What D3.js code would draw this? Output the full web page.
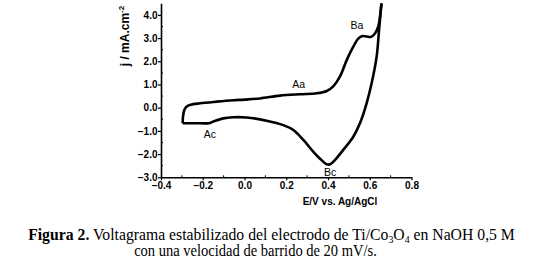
<!DOCTYPE html>
<html><head><meta charset="utf-8">
<script src="https://cdn.jsdelivr.net/npm/d3@7"></script>
<style>body{margin:0;background:#fff;}svg{display:block;}</style>
</head><body>
<svg id="c" width="560" height="269"></svg>
<script>
// Anodic (forward) sweep
const anodicE = [-0.296,-0.295,-0.289,-0.278,-0.258,-0.213,-0.133,-0.054,0.0,0.074,0.17,0.266,0.346,0.394,0.425,0.457,0.49,0.521,0.545,0.565,0.585,0.605,0.625,0.641,0.649,0.656];
const anodicJ = [-0.67,-0.42,-0.12,0.04,0.13,0.19,0.26,0.32,0.35,0.40,0.52,0.58,0.62,0.72,0.92,1.34,2.06,2.63,2.98,3.09,3.07,3.05,3.2,3.5,3.92,4.5];
// Cathodic (reverse) sweep
const cathodicE = [0.656,0.645,0.633,0.609,0.585,0.553,0.521,0.473,0.434,0.41,0.394,0.362,0.33,0.282,0.234,0.186,0.106,0.01,-0.054,-0.102,-0.15,-0.17,-0.213,-0.277,-0.296];
const cathodicJ = [4.5,3.4,2.2,1.05,0.19,-0.67,-1.25,-1.82,-2.25,-2.44,-2.44,-2.2,-1.9,-1.39,-0.96,-0.75,-0.56,-0.42,-0.41,-0.46,-0.6,-0.67,-0.67,-0.67,-0.67];
// Peak labels
const peakNames = ["Ba","Aa","Ac","Bc"];
const peakE = [0.538,0.26,-0.166,0.41];
const peakJ = [3.52,0.97,-1.19,-2.81];
// Axis ticks
const xTicks = [-0.4,-0.2,0.0,0.2,0.4,0.6,0.8];
const xMinor = [-0.3,-0.1,0.1,0.3,0.5,0.7];
const yTicks = [-3,-2,-1,0,1,2,3,4];
const yMinor = [-2.5,-1.5,-0.5,0.5,1.5,2.5,3.5];

const svg = d3.select("#c");
const x = d3.scaleLinear().domain([-0.4,0.8]).range([161,411.5]);
const y = d3.scaleLinear().domain([-3,4.5]).range([177.3,3.3]);

const tickFont = "bold 10px 'Liberation Sans', Arial, sans-serif";

// axes
const xAxis = d3.axisBottom(x).tickValues(xTicks).tickFormat(d3.format(".1f")).tickSize(3).tickSizeOuter(0);
const gx = svg.append("g").attr("transform",`translate(0,${y(-3)})`).call(xAxis);
gx.select(".domain").attr("stroke","#000").attr("stroke-width",1.6);
gx.selectAll(".tick line").attr("stroke-width",1.2);
gx.selectAll("text").style("font",tickFont).attr("fill","#000").attr("dy","0.6em");
gx.selectAll(".minor").data(xMinor).enter().append("line")
  .attr("x1",d=>x(d)).attr("x2",d=>x(d)).attr("y1",0).attr("y2",-2).attr("stroke","#000").attr("stroke-width",1);

const yAxis = d3.axisLeft(y).tickValues(yTicks).tickFormat(d3.format(".1f")).tickSize(3).tickSizeOuter(0);
const gy = svg.append("g").attr("transform",`translate(${x(-0.4)},0)`).call(yAxis);
gy.select(".domain").attr("stroke","#000").attr("stroke-width",1.6);
gy.selectAll(".tick line").attr("stroke-width",1.2);
gy.selectAll("text").style("font",tickFont).attr("fill","#000").attr("x",-3.5);
gy.selectAll(".minor").data(yMinor).enter().append("line")
  .attr("y1",d=>y(d)).attr("y2",d=>y(d)).attr("x1",0).attr("x2",2).attr("stroke","#000").attr("stroke-width",1);

// curve
const line = d3.line().x(d=>x(d[0])).y(d=>y(d[1])).curve(d3.curveCatmullRom.alpha(0.5));
const anodic = anodicE.map((e,i)=>[e,anodicJ[i]]);
const cathodic = cathodicE.map((e,i)=>[e,cathodicJ[i]]);
svg.append("path").attr("d",line(anodic)).attr("fill","none").attr("stroke","#000").attr("stroke-width",2.6).attr("stroke-linejoin","round");
svg.append("path").attr("d",line(cathodic)).attr("fill","none").attr("stroke","#000").attr("stroke-width",2.6).attr("stroke-linejoin","round");

// peak labels
svg.selectAll(".pk").data(peakNames).enter().append("text")
  .attr("x",(d,i)=>x(peakE[i])).attr("y",(d,i)=>y(peakJ[i]))
  .attr("text-anchor","middle").attr("dominant-baseline","middle")
  .style("font","10.5px 'Liberation Sans', Arial, sans-serif").text(d=>d);

// axis titles
svg.append("text").attr("x",340).attr("y",205)
  .attr("text-anchor","middle").style("font","bold 10px 'Liberation Sans', Arial, sans-serif").text("E/V vs. Ag/AgCl");
const yl = svg.append("text").attr("transform","translate(129,36) rotate(-90)")
  .attr("text-anchor","middle").style("font","bold 12px 'Liberation Sans', Arial, sans-serif");
yl.append("tspan").text("j / mA.cm");
yl.append("tspan").attr("dy",-5).style("font-size","8px").text("-2");

// caption
const capFont = "16px 'Liberation Serif', 'Times New Roman', serif";
function fitLine(cx, baseline, width, build){
  const g = svg.append("g");
  const t = g.append("text").attr("x",0).attr("y",0).attr("text-anchor","middle").style("font",capFont);
  build(t);
  const w = t.node().getComputedTextLength();
  const s = width / w;
  g.attr("transform",`translate(${cx},${baseline}) scale(${s},1)`);
}
fitLine(271.5, 240, 487, t=>{
  t.append("tspan").style("font-weight","bold").text("Figura 2.");
  t.append("tspan").text(" Voltagrama estabilizado del electrodo de Ti/Co");
  t.append("tspan").attr("dy",3).style("font-size","10px").text("3");
  t.append("tspan").attr("dy",-3).text("O");
  t.append("tspan").attr("dy",3).style("font-size","10px").text("4");
  t.append("tspan").attr("dy",-3).text(" en NaOH 0,5 M");
});
fitLine(255.5, 256, 243, t=>{
  t.text("con una velocidad de barrido de 20 mV/s.");
});
</script>
</body></html>
